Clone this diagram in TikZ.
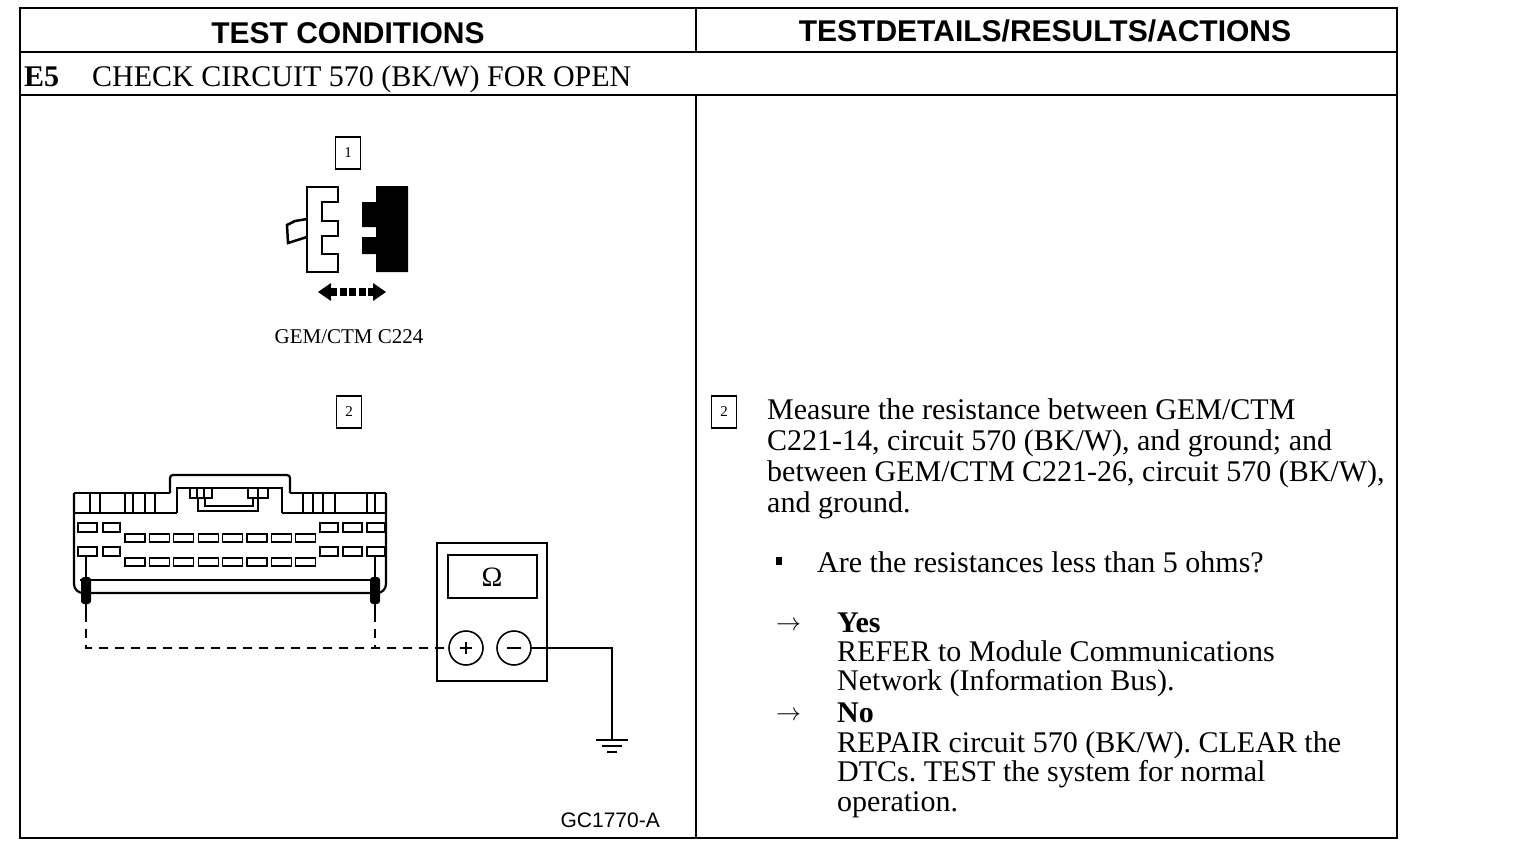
\documentclass[tikz,border=0pt]{standalone}
\usepackage{fontspec}
\setmainfont{Liberation Serif}
\newfontfamily\headfont{Liberation Sans}
\usetikzlibrary{positioning}
\frenchspacing

\begin{document}
\begin{tikzpicture}[x=1pt,y=-1pt,
  frame/.style={line width=2.4pt},
  numbox/.style={draw,line width=1.4pt,minimum width=25pt,minimum height=32pt,inner sep=0pt,font=\fontsize{15}{15}\selectfont},
  head/.style={font=\headfont\bfseries\fontsize{30}{30}\selectfont,inner sep=0pt},
  body/.style={font=\fontsize{30}{#1}\selectfont,inner sep=0pt,anchor=base west,align=left},
  body/.default=30.7,
  cell/.style={line width=1.2pt},
  wire/.style={line width=2pt},
  lead/.style={line width=2pt,dash pattern=on 9pt off 7pt},
  term/.style={circle,draw,line width=1.6pt,minimum size=34pt,inner sep=0pt}]
\useasboundingbox (0,0) rectangle (1520,864);

% table frame
\draw[frame] (20,8) rectangle (1397,838);
\draw[frame] (20,52) -- (1397,52) (20,95) -- (1397,95)
  (696,8) -- (696,52) (696,95) -- (696,838);
\node[head] (hl) at (348,33) {TEST CONDITIONS};
\node[head] (hr) at (1045,31) {TESTDETAILS/RESULTS/ACTIONS};
\node[body,font=\bfseries\fontsize{30}{30}\selectfont] (stepno) at (24,87) {E5};
\node[body] (title) at (92,87) {CHECK CIRCUIT 570 (BK/W) FOR OPEN};

% connector C224, separated
\node[numbox] (n1) at (348,153) {1};
\draw[line width=2.5pt] (307,187) -- (338,187) -- (338,202) -- (322,202) -- (322,221) -- (338,221)
  -- (338,236) -- (322,236) -- (322,254) -- (338,254) -- (338,272) -- (307,272) -- cycle;
\draw[line width=2.5pt] (307,219) -- (295,221) -- (287,225) -- (288,243) -- (307,237);
\fill (376,186) -- (408,186) -- (408,272) -- (376,272) -- (376,254) -- (362,254) -- (362,237)
  -- (376,237) -- (376,227) -- (362,227) -- (362,202) -- (376,202) -- cycle;
\draw[line width=8pt,dash pattern=on 7pt off 2.5pt] (330,292) -- (374,292);
\fill (318,292) -- (331,283) -- (331,301) -- cycle;
\fill (386,292) -- (373,283) -- (373,301) -- cycle;
\node[font=\fontsize{21}{21}\selectfont] (lab1) at (349,337) {GEM/CTM C224};

% connector C221 with probes
\node[numbox] (n2) at (349,412) {2};
\draw[line width=2.2pt,rounded corners=9pt] (74,493) -- (74,593) -- (386,593) -- (386,493);
\draw[line width=2.2pt] (74,493) -- (170,493) (290,493) -- (386,493)
  (74,513) -- (177,513) (282,513) -- (386,513);
\draw[line width=2.2pt,rounded corners=3pt] (170,493) -- (170,475) -- (290,475) -- (290,493);
\draw[line width=2.2pt] (177,513) -- (177,488) -- (282,488) -- (282,513);
\draw[line width=1.8pt] (80,580) -- (380,580);
\foreach \x in {90,100,125,133,145,155,303,313,323,335,367,375}
  \draw[line width=2pt] (\x,493) -- (\x,513);
\draw[cell] (190,488) rectangle (212,498) (197,488) -- (197,498) (204,488) -- (204,498)
  (248,488) rectangle (268,498) (258,488) -- (258,498);
\draw[cell] (198,498) -- (198,511) -- (258,511) -- (258,498)
  (205,498) -- (205,506) -- (253,506) -- (253,498);
\foreach \y in {523,547}
  \foreach \a/\b in {78/97,103/120,320/338,343/362,367/385}
    \draw[cell] (\a,\y) rectangle (\b,\y+9);
\foreach \y in {534,558}
  \foreach \i in {0,...,7}
    \draw[cell] (125+24.4*\i,\y) rectangle (145+24.4*\i,\y+8);
\coordinate (pa) at (86,613);
\coordinate (pb) at (375,613);
\draw[wire] (86,555) -- (pa) (375,555) -- (pb);
\fill[rounded corners=3pt] (81,577) rectangle (91,604);
\fill[rounded corners=3pt] (370,577) rectangle (380,604);

% ohmmeter
\draw[line width=2.4pt] (437,543) rectangle (547,681);
\draw[line width=1.6pt] (448,555) rectangle (537,598);
\node[font=\fontsize{28}{28}\selectfont] (ohm) at (492,577) {Ω};
\node[term] (pt) at (466,648) {};
\node[term] (mt) at (514,648) {};
\draw[line width=2.4pt] (pt.center) ++(-6,0) -- ++(12,0) (pt.center) ++(0,-6) -- ++(0,12);
\draw[line width=2pt] (mt.center) ++(-7,0) -- ++(14,0);
\draw[lead] (pa) |- (pt.west);
\draw[lead] (pb) -- (pb |- pt.west);
\coordinate (gnd) at (612,740);
\draw[wire] (mt.east) -| (gnd);
\draw[wire] (596,740) -- (628,740) (602,746) -- (622,746) (607,752) -- (617,752);
\node[font=\headfont\fontsize{21}{21}\selectfont,anchor=base east,inner sep=0pt] (fig) at (660,827) {GC1770-A};

% details column (base = last line)
\node[numbox] (n2r) at (724,412) {2};
\node[body] (meas) at (767,512) {Measure the resistance between GEM/CTM\\C221-14, circuit 570 (BK/W), and ground; and\\between GEM/CTM C221-26, circuit 570 (BK/W),\\and ground.};
\fill (776,557) rectangle (782,565);
\node[body] (ask) at (817,572) {Are the resistances less than 5 ohms?};
\node[body,font=\fontsize{24}{24}\selectfont] (ay) at (776,630) {$\rightarrow$};
\node[body=28.7] (yes) at (837,690) {\textbf{Yes}\\REFER to Module Communications\\Network (Information Bus).};
\node[body,font=\fontsize{24}{24}\selectfont] (an) at (776,720) {$\rightarrow$};
\node[body=29.5] (no) at (837,811) {\textbf{No}\\REPAIR circuit 570 (BK/W). CLEAR the\\DTCs. TEST the system for normal\\operation.};
\end{tikzpicture}
\end{document}
